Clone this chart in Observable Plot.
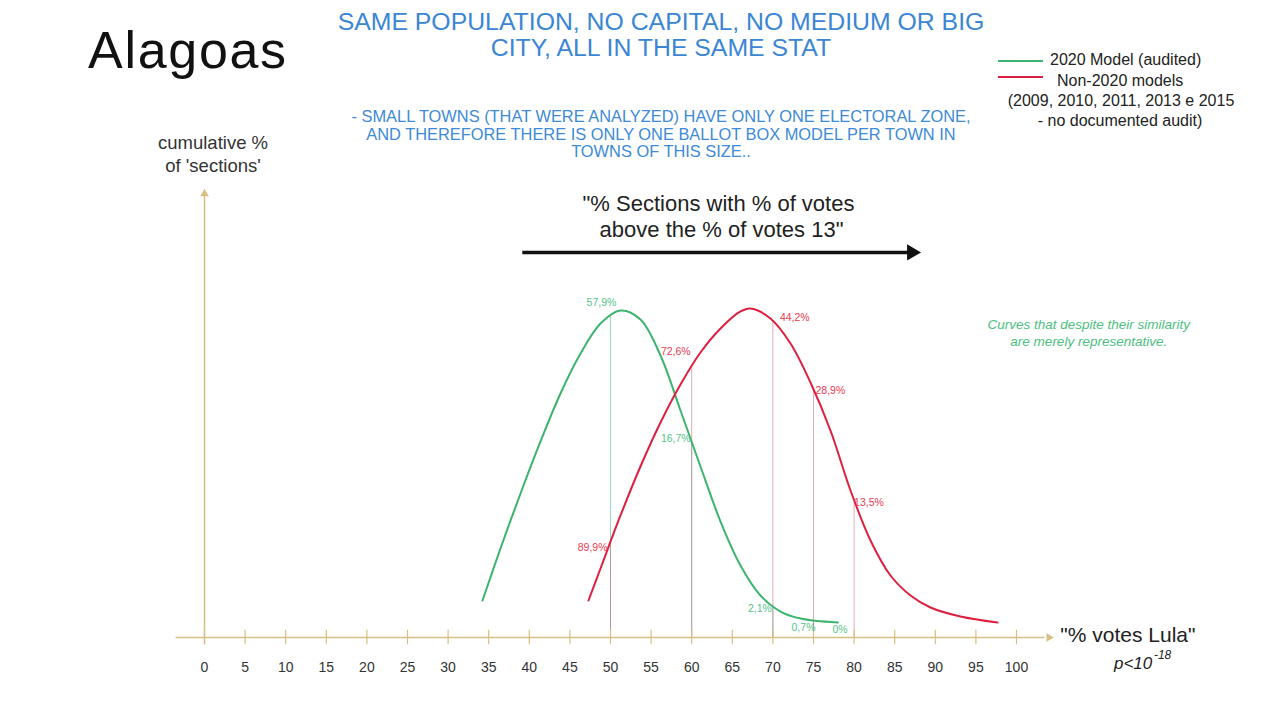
<!DOCTYPE html>
<html>
<head>
<meta charset="utf-8">
<script src="https://cdn.jsdelivr.net/npm/d3@7"></script>
<script src="https://cdn.jsdelivr.net/npm/@observablehq/plot@0.6"></script>
<style>
  html, body { margin: 0; padding: 0; background: #fff; }
  body { font-family: "Liberation Sans", Arial, sans-serif; }
  #wrap { width: 1280px; height: 720px; position: relative; overflow: hidden; background: #fff; }
  #head { position: relative; width: 1280px; height: 180px; }
  .abs { position: absolute; white-space: nowrap; }
  #state { left: 88px; top: 24px; font-size: 52px; line-height: 52px; letter-spacing: 1.7px; color: #111; }
  #title { left: 661px; top: 9px; transform: translateX(-50%); text-align: center; font-size: 24.8px; line-height: 26px; color: #3a86d4; }
  #sub { left: 661px; top: 108px; transform: translateX(-50%); text-align: center; font-size: 16.4px; line-height: 17.5px; color: #3d8ad6; }
  #ylab { left: 213px; top: 131px; transform: translateX(-50%); text-align: center; font-size: 18.5px; line-height: 23px; color: #333; }
  .leg { font-size: 16px; line-height: 20px; color: #222; }
  .sw { position: absolute; height: 0; width: 45px; }
  #chart { position: relative; width: 1280px; height: 540px; }
</style>
</head>
<body>
<div id="wrap">
  <div id="head">
    <div class="abs" id="state"></div>
    <div class="abs" id="title"></div>
    <div class="abs" id="sub"></div>
    <div class="abs" id="ylab"></div>
    <div class="sw" id="swG" style="left:998px; top:60px; border-top:2px solid #3cb46e;"></div>
    <div class="sw" id="swR" style="left:998px; top:76px; border-top:2px solid #dd2040;"></div>
    <div class="abs leg" id="leg1" style="left:1050px; top:50px;"></div>
    <div class="abs leg" id="leg2" style="left:1057px; top:71px;"></div>
    <div class="abs leg" id="leg3" style="left:1121px; top:91px; transform:translateX(-50%);"></div>
    <div class="abs leg" id="leg4" style="left:1120px; top:111px; transform:translateX(-50%);"></div>
  </div>
  <div id="chart"></div>
</div>
<script>
// ---------- texts ----------
const stateName = "Alagoas";
const titleLines = ["SAME POPULATION, NO CAPITAL, NO MEDIUM OR BIG", "CITY, ALL IN THE SAME STAT"];
const subLines = [
  "- SMALL TOWNS (THAT WERE ANALYZED) HAVE ONLY ONE ELECTORAL ZONE,",
  "AND THEREFORE THERE IS ONLY ONE BALLOT BOX MODEL PER TOWN IN",
  "TOWNS OF THIS SIZE.."
];
const yLabelLines = ["cumulative %", "of 'sections'"];
const legendLines = ["2020 Model (audited)", "Non-2020 models", "(2009, 2010, 2011, 2013 e 2015", "- no documented audit)"];
const sectionsText = "\"% Sections with % of votes\n above the % of votes 13\"";
const noteText = "Curves that despite their similarity\nare merely representative.";
const xAxisLabel = "\"% votes Lula\"";

// ---------- data ----------
const xTicks = [0,5,10,15,20,25,30,35,40,45,50,55,60,65,70,75,80,85,90,95,100];
// 2020 model (audited) curve
const greenX = [34.24, 36.45, 38.92, 41.38, 43.84, 46.31, 48.77, 51.23, 53.69, 56.16, 58.62, 61.08, 63.55, 66.01, 68.47, 70.94, 73.40, 78.0];
const greenY = [11.17, 26.88, 43.49, 59.20, 73.69, 85.77, 94.84, 98.76, 96.04, 85.17, 68.56, 51.65, 35.03, 21.75, 12.69, 7.85, 5.74, 4.53];
// Non-2020 models curve
const redX = [47.29, 48.77, 51.23, 53.69, 56.16, 58.62, 61.08, 63.55, 66.01, 67.24, 69.70, 72.17, 74.63, 77.09, 79.56, 82.02, 84.48, 86.95, 89.41, 93.10, 97.66];
const redY = [11.17, 20.84, 36.85, 51.65, 64.94, 76.41, 86.08, 93.32, 98.46, 99.37, 96.35, 88.80, 77.02, 62.52, 44.40, 29.30, 18.73, 12.69, 9.06, 6.34, 4.53];
// thresholds with labelled percentages
const markX = [50, 60, 70, 75, 80];
const greenLabels = ["57,9%", "16,7%", "2,1%", "0,7%", "0%"];
const redLabels = ["89,9%", "72,6%", "44,2%", "28,9%", "13,5%"];

// ---------- styles ----------
const GREEN = "#3cb46e", RED = "#dd2040";
const GREEN_TXT = "#55c488", RED_TXT = "#ec3a50";
const AXIS = "#d6bf82";
const FONT = "Liberation Sans, Arial, sans-serif";
// label placement (anchor, dx, dy) relative to the point on each curve
const greenPlace = [["middle",-9,-14],["end",-1,-3],["end",-1,3],["middle",-10,7.5],["middle",-14,7]];
const redPlace = [["end",-3,5.5],["end",-1,-15],["start",7,-4],["start",2,1],["start",0,3]];

// ---------- fill header ----------
document.getElementById("state").textContent = stateName;
document.getElementById("title").innerHTML = titleLines.join("<br>");
document.getElementById("sub").innerHTML = subLines.join("<br>");
document.getElementById("ylab").innerHTML = yLabelLines.join("<br>");
legendLines.forEach((t, i) => document.getElementById("leg" + (i + 1)).textContent = t);

// ---------- build tables ----------
const green = greenX.map((x, i) => ({x, y: greenY[i]}));
const red = redX.map((x, i) => ({x, y: redY[i]}));
function valueAt(xs, ys, x) {
  if (x > xs[xs.length - 1]) return null;
  const i = d3.bisectRight(xs, x);
  if (i <= 0) return ys[0];
  const t = (x - xs[i - 1]) / (xs[i] - xs[i - 1]);
  return ys[i - 1] + t * (ys[i] - ys[i - 1]);
}
const rules = [];
markX.forEach(x => {
  const g = valueAt(greenX, greenY, x);
  if (g != null) rules.push({x, y: g, s: "g"});
  const r = valueAt(redX, redY, x);
  if (r != null) rules.push({x, y: r, s: "r"});
});
const labels = [];
markX.forEach((x, i) => {
  const g = valueAt(greenX, greenY, x);
  labels.push({x, y: g == null ? greenY[greenY.length - 1] : g, text: greenLabels[i], fill: GREEN_TXT,
    anchor: greenPlace[i][0], dx: greenPlace[i][1], dy: greenPlace[i][2]});
  const r = valueAt(redX, redY, x);
  labels.push({x, y: r, text: redLabels[i], fill: RED_TXT,
    anchor: redPlace[i][0], dx: redPlace[i][1], dy: redPlace[i][2]});
});
const labelMarks = labels.map(d => Plot.text([d], {
  x: "x", y: "y", text: "text", fill: d.fill, textAnchor: d.anchor, dx: d.dx, dy: d.dy, fontSize: 10.5
}));

// annotation anchors (data units)
const arrowRow = [{x1: 39.2, x2: 87.1, y: 116.3}];

const chart = Plot.plot({
  width: 1280,
  height: 540,
  marginLeft: 204,
  marginRight: 264,
  marginTop: 10,
  marginBottom: 83,
  x: {domain: [0, 100]},
  y: {domain: [0, 135], axis: null},
  style: {fontFamily: FONT, background: "transparent", overflow: "visible"},
  marks: [
    // drop lines
    Plot.ruleX(rules.filter(d => d.s === "g"), {x: "x", y1: 0, y2: "y", stroke: "#7ccfb0", strokeWidth: 1, strokeOpacity: 0.8}),
    Plot.ruleX(rules.filter(d => d.s === "r"), {x: "x", y1: 0, y2: "y", stroke: "#c7687a", strokeWidth: 1, strokeOpacity: 0.55}),
    // x axis line + arrow
    Plot.ruleY([0], {x1: -3.5, x2: 103.5, stroke: AXIS, strokeWidth: 1.5}),
    Plot.dot([0], {x: 104, y: 0, symbol: "triangle", rotate: 90, r: 3.2, fill: AXIS, stroke: "none"}),
    Plot.ruleX(xTicks, {x: d => d, y1: -2.2, y2: 2.2, stroke: AXIS, strokeWidth: 1.2}),
    // y axis line + arrow
    Plot.ruleX([0], {y1: -2.2, y2: 133.5, stroke: AXIS, strokeWidth: 1.5}),
    Plot.dot([0], {x: 0, y: 134, symbol: "triangle", r: 3.2, fill: AXIS, stroke: "none"}),
    Plot.axisX({ticks: xTicks, tickSize: 0, tickPadding: 25, fontSize: 14, color: "#333", label: null, tickFormat: d => d}),
    // curves
    Plot.line(green, {x: "x", y: "y", curve: "catmull-rom", stroke: GREEN, strokeWidth: 2}),
    Plot.line(red, {x: "x", y: "y", curve: "catmull-rom", stroke: RED, strokeWidth: 2}),
    ...labelMarks,
    // headline arrow
    Plot.ruleY(arrowRow, {x1: "x1", x2: "x2", y: "y", stroke: "#111", strokeWidth: 3.5}),
    Plot.dot(arrowRow, {x: "x2", y: "y", symbol: "triangle", rotate: 90, r: 6, fill: "#111", stroke: "none"}),
    Plot.text([sectionsText], {x: 63.3, y: 127.5, text: d => d, fontSize: 22, lineHeight: 1.2, fill: "#222"}),
    Plot.text([noteText], {x: 108.9, y: 92.3, text: d => d, fontSize: 13.5, fontStyle: "italic", lineHeight: 1.3, fill: "#4cc07f"}),
    Plot.text([xAxisLabel], {x: 105.4, y: 0, dy: -2, text: d => d, textAnchor: "start", fontSize: 21, fill: "#222"}),
    Plot.text(["p<10"], {x: 112, y: 0, dy: 26, text: d => d, textAnchor: "start", fontSize: 17, fontStyle: "italic", fill: "#222"}),
    Plot.text(["-18"], {x: 112, y: 0, dx: 40, dy: 18, text: d => d, textAnchor: "start", fontSize: 12, fontStyle: "italic", fill: "#222"})
  ]
});
document.getElementById("chart").appendChild(chart);
</script>
</body>
</html>
